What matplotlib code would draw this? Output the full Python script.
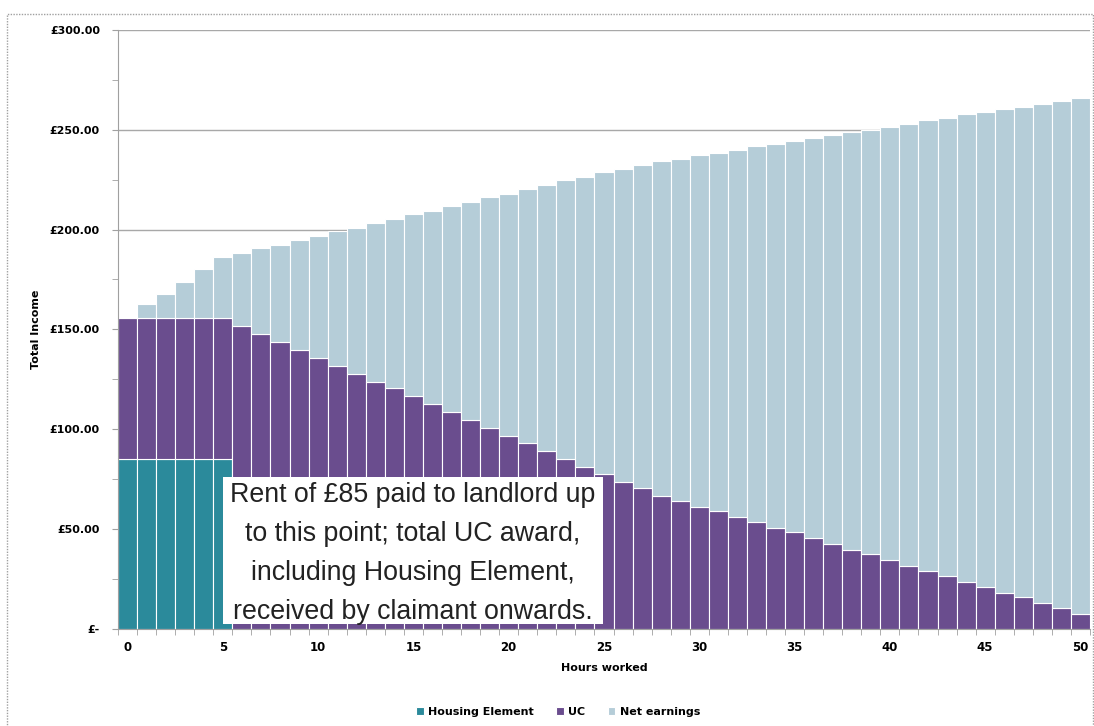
import numpy as np
import matplotlib.pyplot as plt
from matplotlib.patches import Rectangle
from matplotlib.ticker import MultipleLocator, FixedLocator

hours = list(range(51))

# housing element paid to landlord up to 5 hours
housing = [85] * 6 + [0] * 45

# top of the purple part (housing element + UC)
uc_top = [155.7, 155.7, 155.7, 155.7, 155.7, 155.7,
          151.7, 147.7, 143.7, 139.8, 135.8, 131.8, 127.8, 123.8, 120.5, 116.5,
          112.6, 108.7, 104.7, 100.7, 96.7, 92.9, 89.0, 85.0, 81.0, 77.4,
          73.5, 70.3, 66.7, 64.0, 61.1, 59.1, 56.1, 53.3, 50.6, 48.3,
          45.3, 42.6, 39.6, 37.4, 34.6, 31.6, 28.9, 26.4, 23.5, 20.9,
          18.0, 15.7, 13.0, 10.2, 7.4]

# total income (top of bar)
total = [155.7, 162.5, 167.6, 173.8, 180.0, 186.2,
         188.5, 190.8, 192.3, 194.8, 196.8, 199.3, 200.9, 203.1, 205.3, 208.0,
         209.3, 212.0, 214.0, 216.2, 217.8, 220.2, 222.3, 224.7, 226.3, 228.7,
         230.5, 232.3, 234.2, 235.6, 237.2, 238.4, 240.0, 241.9, 242.7, 244.5,
         245.9, 247.2, 248.7, 250.0, 251.2, 253.0, 254.7, 256.0, 257.9, 258.7,
         260.2, 261.6, 263.1, 264.3, 266.1]

uc = [t - h for t, h in zip(uc_top, housing)]
earnings = [t - u for t, u in zip(total, uc_top)]

c_he = "#2b8a9b"
c_uc = "#6a4d8e"
c_net = "#b5cdd8"

fig = plt.figure(figsize=(10.94, 7.26), dpi=100)
W, H = 1094, 726
ax = fig.add_axes([118 / W, (H - 628.7) / H, (1090 - 118) / W, (628.7 - 30) / H])

# outer chart border
fig.patches.append(Rectangle((7 / W, -0.05), (1093 - 7) / W, (H - 13.5) / H + 0.05,
                             transform=fig.transFigure, fill=False,
                             edgecolor="#a0a0a0", linewidth=1, linestyle=(0, (1, 1))))

ax.bar(hours, housing, width=1.0, color=c_he, edgecolor="white", linewidth=0.8,
       label="Housing Element", zorder=2)
ax.bar(hours, uc, width=1.0, bottom=housing, color=c_uc, edgecolor="white",
       linewidth=0.8, label="UC", zorder=2)
ax.bar(hours, earnings, width=1.0, bottom=uc_top, color=c_net, edgecolor="white",
       linewidth=0.8, label="Net earnings", zorder=2)

ax.set_xlim(-0.5, 50.5)
ax.set_ylim(0, 300)

ax.yaxis.set_major_locator(MultipleLocator(50))
ax.yaxis.set_minor_locator(MultipleLocator(25))
ax.set_yticklabels(["£-" if v == 0 else f"£{v:.2f}" for v in ax.get_yticks()],
                   fontsize=8, fontweight="bold")
ax.set_xticks(range(0, 51, 5))
ax.set_xticklabels([str(v) for v in range(0, 51, 5)], fontsize=8.5, fontweight="bold")
ax.xaxis.set_minor_locator(FixedLocator(np.arange(-0.5, 51, 1)))
ax.tick_params(axis="x", which="major", length=0, pad=9)
ax.tick_params(axis="x", which="minor", length=4, color="#a0a0a0")
ax.tick_params(axis="y", which="both", length=4, color="#a0a0a0", pad=9)

ax.grid(axis="y", which="major", color="#a8a8a8", linewidth=1, zorder=0)
ax.set_axisbelow(True)
for s in ["top", "right"]:
    ax.spines[s].set_visible(False)
for s in ["left", "bottom"]:
    ax.spines[s].set_color("#a0a0a0")

ax.set_ylabel("Total Income", fontsize=8, fontweight="bold", labelpad=6)
ax.set_xlabel("Hours worked", fontsize=8, fontweight="bold", labelpad=6)

# annotation box (white, sits just above the axis line)
box = Rectangle(((223 - 118) / 972, 4.5 / 598.7), (603 - 223) / 972,
                (624 - 476.7) / 598.7, transform=ax.transAxes,
                facecolor="white", edgecolor="none", zorder=5)
ax.add_patch(box)
note = ["Rent of £85 paid to landlord up", "to this point; total UC award,",
        "including Housing Element,", "received by claimant onwards."]
for i, line in enumerate(note):
    y_px = 495 + 39 * i
    t = ax.text((413 - 118) / 972, (628.7 - y_px) / 598.7, line, transform=ax.transAxes,
                ha="center", va="center", fontsize=19.3, family="Liberation Sans",
                color="#222222", zorder=6)
    t.set_clip_path(box)

fig.legend(loc="center", bbox_to_anchor=(558 / W, (H - 712) / H), ncol=3,
           frameon=False, prop={"size": 8, "weight": "bold"},
           handlelength=0.7, handleheight=0.7, columnspacing=2.0, handletextpad=0.4)

fig.savefig("out.png", dpi=100)
